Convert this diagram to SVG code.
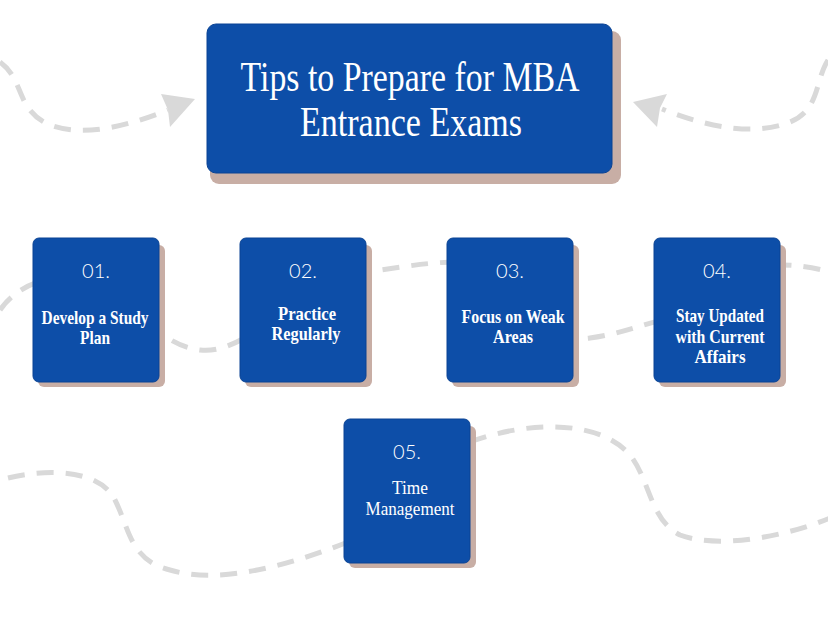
<svg xmlns="http://www.w3.org/2000/svg" width="828" height="621" viewBox="0 0 828 621">
<style>
.dash{fill:none;stroke:#d9d9d9;stroke-width:5;stroke-dasharray:17 12}
.head{fill:#d9d9d9}
.shadow{fill:#c8aea5}
.box{fill:#0d4ea8;stroke:#0a4394;stroke-width:1}
.title{font-family:"Liberation Serif",serif;font-size:42px;fill:#ffffff;text-anchor:middle}
.num{font-family:Lato,"Open Sans",sans-serif;font-weight:300;font-size:20px;fill:#ffffff;text-anchor:middle}
.lbl{font-family:"Liberation Serif",serif;font-weight:bold;font-size:19px;fill:#ffffff;text-anchor:middle}
.reg{font-family:"Liberation Serif",serif;font-weight:normal;font-size:19px;fill:#ffffff;text-anchor:middle}
</style>
<rect width="828" height="621" fill="#ffffff"/>
<g id="connectors">
<path class="dash" d="M0,62 C25,80 15,110 50,125 C85,138 130,125 168,110"/>
<polygon class="head" points="195,99 161,94 168,110 170,127"/>
<path class="dash" d="M828,60 C815,80 820,110 790,122 C755,136 710,128 662,109"/>
<polygon class="head" points="633,102 667,94 660,108 657,127"/>
<path class="dash" d="M0,310 C20,280 70,265 110,290 C140,310 160,345 200,350 C250,356 300,280 380,270 C410,266 430,262 460,262 C520,262 540,345 590,338 C620,334 640,325 670,318 C700,310 730,265 780,265 C800,265 815,268 830,272"/>
<path class="dash" d="M8,478 C50,468 100,470 115,500 C130,530 130,560 170,570 C220,585 290,565 348,542"/>
<path class="dash" d="M470,442 C530,420 600,420 630,455 C650,480 650,520 680,535 C720,550 790,535 830,518"/>
</g>
<g id="title">
<rect class="shadow" x="210" y="31" width="411" height="153" rx="9"/>
<rect class="box" x="207" y="24" width="405" height="149" rx="9"/>
<text class="title" x="410" y="91" textLength="339" lengthAdjust="spacingAndGlyphs">Tips to Prepare for MBA</text>
<text class="title" x="411" y="136" textLength="222" lengthAdjust="spacingAndGlyphs">Entrance Exams</text>
</g>
<g id="tip1">
<rect class="shadow" x="38" y="245" width="127" height="142" rx="6"/>
<rect class="box" x="33" y="238" width="126" height="144" rx="6"/>
<text class="num" x="96" y="278">01.</text>
<text class="lbl" x="95" y="324" textLength="107" lengthAdjust="spacingAndGlyphs">Develop a Study</text>
<text class="lbl" x="95" y="344" textLength="30" lengthAdjust="spacingAndGlyphs">Plan</text>
</g>
<g id="tip2">
<rect class="shadow" x="245" y="245" width="127" height="142" rx="6"/>
<rect class="box" x="240" y="238" width="126" height="144" rx="6"/>
<text class="num" x="303" y="278">02.</text>
<text class="lbl" x="307" y="320" textLength="58" lengthAdjust="spacingAndGlyphs">Practice</text>
<text class="lbl" x="306" y="340" textLength="69" lengthAdjust="spacingAndGlyphs">Regularly</text>
</g>
<g id="tip3">
<rect class="shadow" x="452" y="245" width="127" height="142" rx="6"/>
<rect class="box" x="447" y="238" width="126" height="144" rx="6"/>
<text class="num" x="510" y="278">03.</text>
<text class="lbl" x="513" y="323" textLength="103" lengthAdjust="spacingAndGlyphs">Focus on Weak</text>
<text class="lbl" x="513" y="343" textLength="40" lengthAdjust="spacingAndGlyphs">Areas</text>
</g>
<g id="tip4">
<rect class="shadow" x="659" y="245" width="127" height="142" rx="6"/>
<rect class="box" x="654" y="238" width="126" height="144" rx="6"/>
<text class="num" x="717" y="278">04.</text>
<text class="lbl" x="720" y="322" textLength="88" lengthAdjust="spacingAndGlyphs">Stay Updated</text>
<text class="lbl" x="720" y="343" textLength="89" lengthAdjust="spacingAndGlyphs">with Current</text>
<text class="lbl" x="720" y="363" textLength="51" lengthAdjust="spacingAndGlyphs">Affairs</text>
</g>
<g id="tip5">
<rect class="shadow" x="349" y="426" width="127" height="142" rx="6"/>
<rect class="box" x="344" y="419" width="126" height="144" rx="6"/>
<text class="num" x="407" y="459">05.</text>
<text class="reg" x="410" y="494" textLength="36" lengthAdjust="spacingAndGlyphs">Time</text>
<text class="reg" x="410" y="515" textLength="89" lengthAdjust="spacingAndGlyphs">Management</text>
</g>
</svg>
